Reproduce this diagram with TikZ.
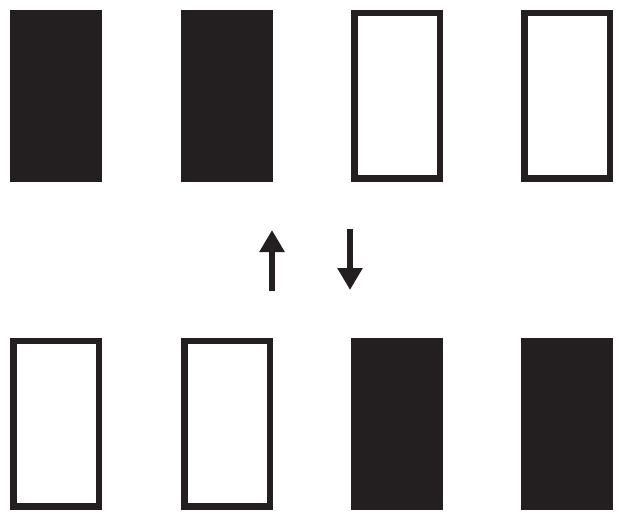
\documentclass[tikz,border=0pt]{standalone}
\usetikzlibrary{arrows.meta}
\definecolor{ink}{HTML}{231F20}
\tikzset{
  card/.style={draw=ink, line width=6.5pt, minimum width=85.5pt, minimum height=165.5pt, inner sep=0pt},
  fullcard/.style={card, fill=ink},
  flip/.style={draw=ink, line width=6pt, -{Triangle[width=24pt,length=22pt]}}
}
\begin{document}
\begin{tikzpicture}[x=1pt,y=-1pt]
\useasboundingbox (0,0) rectangle (623,521);
% top row
\node[fullcard] (top1) at (56,96) {};
\node[fullcard] (top2) at (227,96) {};
\node[card] (top3) at (397,96) {};
\node[card] (top4) at (567,96) {};
% bottom row
\node[card] (bot1) at (56,423.5) {};
\node[card] (bot2) at (227,423.5) {};
\node[fullcard] (bot3) at (397,423.5) {};
\node[fullcard] (bot4) at (567,423.5) {};
% arrows
\coordinate (upfoot) at (272,291);
\coordinate (uptip) at (272,230);
\coordinate (downfoot) at (350,229);
\coordinate (downtip) at (350,290);
\draw[flip] (upfoot) -- (uptip);
\draw[flip] (downfoot) -- (downtip);
\end{tikzpicture}
\end{document}
